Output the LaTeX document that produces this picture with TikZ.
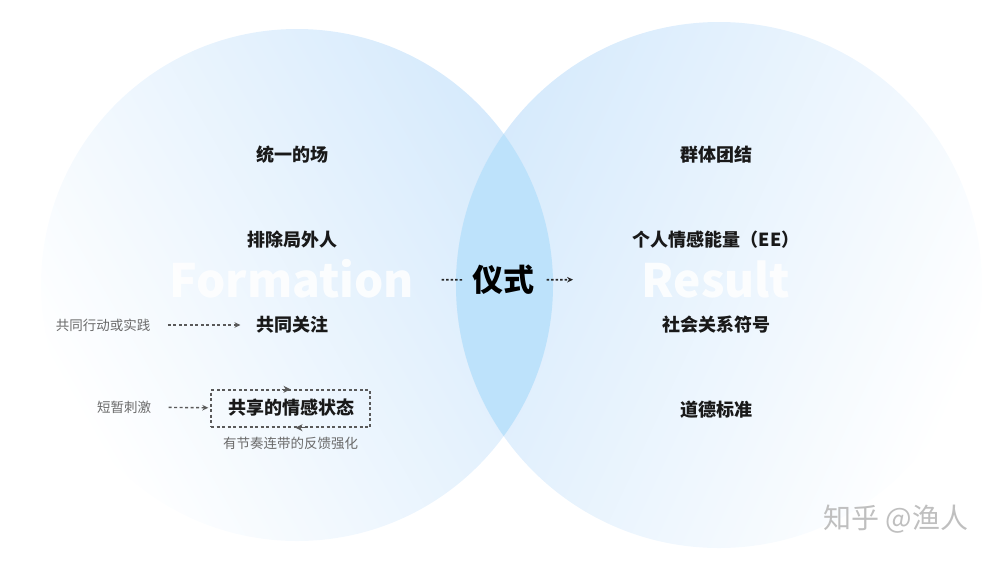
\documentclass[tikz,border=0pt]{standalone}
\usepackage{fontspec}
\setmainfont{Noto Sans CJK SC}
\usepackage{tikz}
\usetikzlibrary{arrows.meta,positioning}

\definecolor{circblue}{HTML}{D6EAFC}
\definecolor{lensblue}{HTML}{BDE2FB}
\definecolor{notegray}{HTML}{6A6A6A}

\begin{document}
\begin{tikzpicture}[
    x=1pt, y=-1pt, >=Stealth,
    item/.style={font=\fontsize{18}{20}\selectfont\bfseries, text=black!90},
    note/.style={font=\fontsize{13.5}{15}\selectfont, text=notegray},
    big/.style={font=\fontsize{46}{50}\selectfont\bfseries, text=white, text opacity=0.85},
    arr/.style={-{Stealth[length=6pt,width=5.5pt]}, draw=black!65, line width=1.4pt,
                dash pattern=on 3pt off 2.5pt},
    dots/.style={draw=black!85, line width=1.6pt, dash pattern=on 2.5pt off 2pt},
    loopbox/.style={draw=black!65, line width=1.4pt, dash pattern=on 3pt off 2.5pt,
                    minimum width=159pt, minimum height=37pt, inner sep=0pt},
    tip/.style={-{Stealth[length=7pt,width=7pt]}, draw=black!65, line width=1.2pt}
]
\useasboundingbox (0,0) rectangle (1000,560);

% Two circles, shaded towards the lens
\shade[left color=white, right color=circblue, shading angle=120] (297,285) circle[radius=256];
\shade[left color=circblue, right color=white, shading angle=65] (719,285) circle[radius=263];
\begin{scope}
  \clip (297,285) circle[radius=256];
  \fill[lensblue] (719,285) circle[radius=263];
\end{scope}

% Left side: formation
\node[item] (field)  at (292,155) {统一的场};
\node[item] (outer)  at (292,240) {排除局外人};
\node[big]  (form)   at (292,279) {Formation};
\node[item] (focus)  at (292,325) {共同关注};
\node[item] (state)  at (291,408) {共享的情感状态};
\node[loopbox] (loop) at (290.5,408.5) {};
\node[note, below=6pt of loop] (fb) {有节奏连带的反馈强化};
\node[note] (act)  at (103,325) {共同行动或实践};
\node[note] (stim) at (124,407) {短暂刺激};

% Centre
\node[font=\fontsize{31}{34}\selectfont\bfseries] (rite) at (503,280) {仪式};

% Right side: result
\node[item] (group)  at (716,155) {群体团结};
\node[item] (energy) at (716,240) {个人情感能量（EE）};
\node[big]  (result) at (716,279) {Result};
\node[item] (symbol) at (716,325) {社会关系符号};
\node[item] (moral)  at (716,410) {道德标准};

% Connectors
\draw[arr, shorten <=14pt, shorten >=12pt] (act) -- (focus);
\draw[arr, shorten <=14pt, shorten >=2pt] (stim) -- (loop);
\draw[tip] ([xshift=-9pt]loop.north) -- ([xshift=0pt]loop.north);
\draw[tip] ([xshift=14pt]loop.south) -- ([xshift=5pt]loop.south);
\draw[dots, shorten <=24pt, shorten >=6pt] (form) -- (rite);
\draw[dots, -{Stealth[length=6pt,width=5.5pt]}, shorten <=9pt, shorten >=65pt] (rite) -- (result);

% Watermark
\node[font=\fontsize{28}{30}\selectfont, text=black!25] (mark) at (896,519) {知乎 @渔人};
\end{tikzpicture}
\end{document}
